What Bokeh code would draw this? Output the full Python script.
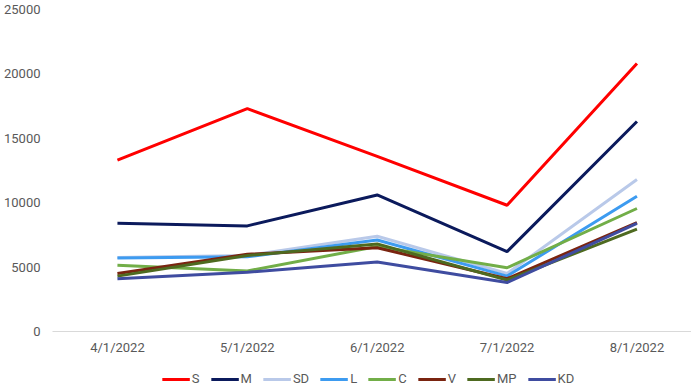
from bokeh.plotting import figure
from bokeh.models import Range1d, FixedTicker, Legend, LegendItem
from bokeh.layouts import column
from bokeh.embed import file_html
from bokeh.resources import INLINE

dates = ["4/1/2022", "5/1/2022", "6/1/2022", "7/1/2022", "8/1/2022"]
S = [13300, 17300, 13600, 9800, 20800]
M = [8400, 8200, 10600, 6200, 16300]
SD = [5750, 5900, 7400, 4500, 11800]
L = [5700, 5800, 7100, 4300, 10500]
C = [5150, 4700, 6600, 4950, 9550]
V = [4500, 6000, 6500, 4100, 8450]
MP = [4300, 5900, 6800, 4000, 7950]
KD = [4100, 4600, 5400, 3800, 8400]

series = [("S", S, "#FF0000"), ("M", M, "#0B1A5C"), ("SD", SD, "#B9C9E9"),
          ("L", L, "#3D9BF0"), ("C", C, "#72AE48"), ("V", V, "#7A2410"),
          ("MP", MP, "#4E6A20"), ("KD", KD, "#3F4CA0")]

xs = list(range(len(dates)))

p = figure(frame_width=639, frame_height=322,
           output_backend="svg", toolbar_location=None,
           x_range=Range1d(-0.5, 4.42), y_range=Range1d(0, 25000),
           min_border_top=9, min_border_left=45, min_border_right=0, min_border_bottom=0)
p.outline_line_color = None
p.xgrid.visible = False
p.ygrid.visible = False

for name, vals, col in series:
    p.line(xs, vals, line_color=col, line_width=3)

p.xaxis.ticker = FixedTicker(ticks=xs)
p.xaxis.major_label_overrides = {i: d for i, d in enumerate(dates)}
p.xaxis.axis_line_color = "#D9D9D9"
p.xaxis.major_tick_line_color = None
p.xaxis.minor_tick_line_color = None
p.xaxis.major_tick_out = 0
p.xaxis.major_label_standoff = 8

p.yaxis.ticker = FixedTicker(ticks=[0, 5000, 10000, 15000, 20000, 25000])
p.yaxis.axis_line_color = None
p.yaxis.major_tick_line_color = None
p.yaxis.minor_tick_line_color = None
p.yaxis.major_label_standoff = 6

for ax in (p.xaxis[0], p.yaxis[0]):
    ax.major_label_text_font = "Roboto"
    ax.major_label_text_font_size = "13px"
    ax.major_label_text_color = "#595959"

# legend strip below the chart (its lines lie outside its own visible range)
p2 = figure(width=684, height=32, output_backend="svg", toolbar_location=None,
            x_range=Range1d(0, 1), y_range=Range1d(0, 1),
            min_border_left=0, min_border_right=0, min_border_top=0, min_border_bottom=0)
p2.axis.visible = False
p2.xgrid.visible = False
p2.ygrid.visible = False
p2.outline_line_color = None

items = []
for name, vals, col in series:
    r = p2.line(xs, vals, line_color=col, line_width=3)
    items.append(LegendItem(label=name, renderers=[r]))

legend = Legend(items=items, orientation="horizontal", location="bottom_center",
                label_text_font="Roboto", label_text_font_size="13px",
                label_text_color="#595959", glyph_width=28, glyph_height=12,
                label_height=14, label_width=0, label_standoff=2, spacing=11,
                padding=0, margin=3,
                border_line_color=None, background_fill_alpha=0)
p2.add_layout(legend, "center")

open("out.html", "w").write(file_html(column(p, p2), INLINE))
